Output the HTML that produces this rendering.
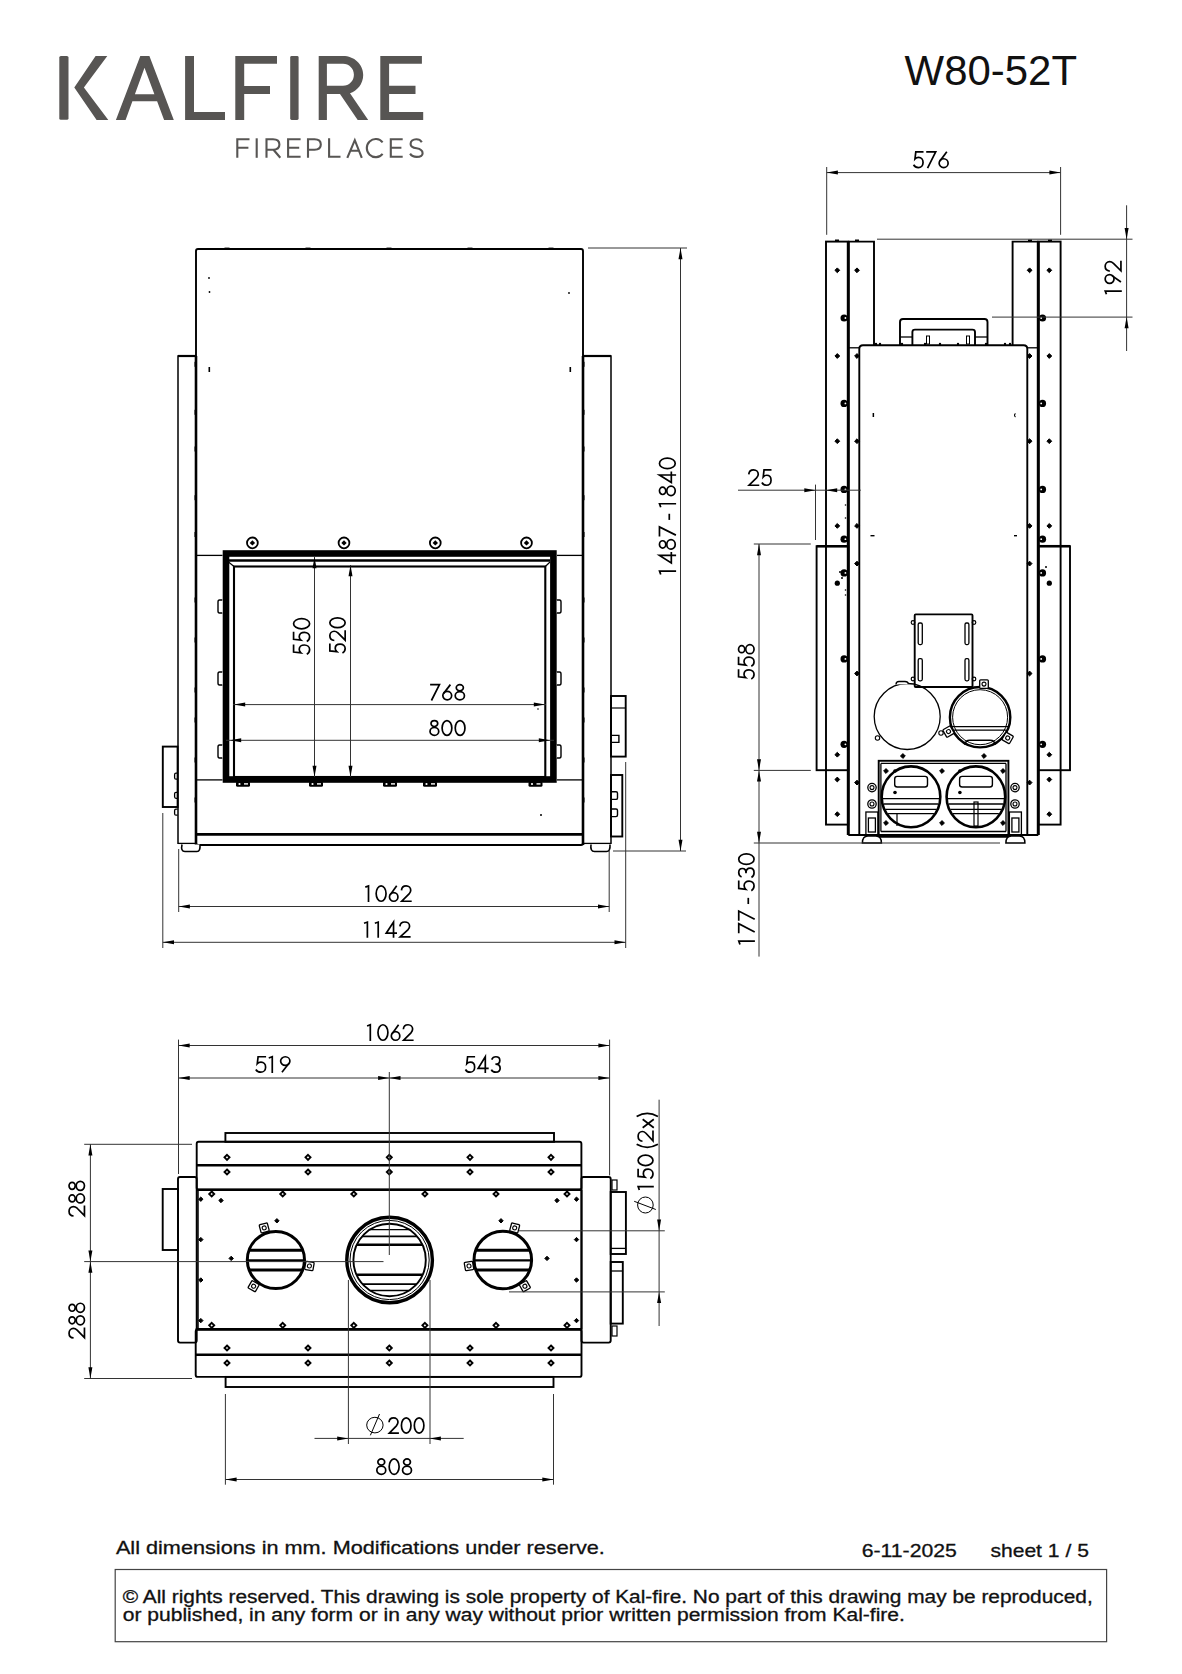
<!DOCTYPE html>
<html><head><meta charset="utf-8"><style>
html,body{margin:0;padding:0;background:#fff;}
body{width:1182px;height:1674px;overflow:hidden;}
svg{display:block;}
.dt *{vector-effect:non-scaling-stroke;}
</style></head><body>
<svg width="1182" height="1674" viewBox="0 0 1182 1674">
<rect x="0" y="0" width="1182" height="1674" fill="#fff"/>
<g fill="#575553">
<rect x="59.3" y="55.9" width="9.2" height="63.9" rx="1.6"/>
<polygon points="95.6,56 107.3,56 83.9,87.5 108.3,120 96.6,120 74.3,87.5"/>
<path fill-rule="evenodd" d="M115.9,120 L140.3,56 L149.4,56 L173.8,120 L164.1,120 L157.1,101.3 L132.4,101.3 L125.6,120 Z M144.5,67.8 L154.4,94.2 L134.9,94.2 Z"/>
<path d="M185.1,56 H194 V111.9 H225 V120 H185.1 Z"/>
<path d="M235.3,56 H277 V63.7 H244.2 V86 H270 V93.9 H244.2 V120 H235.3 Z"/>
<rect x="290.2" y="56" width="8.4" height="64" rx="1.4"/>
<path fill-rule="evenodd" d="M318.7,56 H343 C354,56 363.2,64 363.2,75 C363.2,84 357,91 350,93.2 L368.2,120 H357.7 L340,94 H326.9 V120 H318.7 Z M326.9,63.7 V85.7 H343 C349,85.7 353.9,81 353.9,74.7 C353.9,68.4 349,63.7 343,63.7 Z"/>
<path d="M380.3,56 H421.9 V63.7 H389.1 V85.7 H415.5 V94 H389.1 V112.1 H423.2 V120 H380.3 Z"/>
</g>
<path d="M237.3,157.8 V139.3 H249.5 M237.3,147.7 H248.4" fill="none" stroke="#575553" stroke-width="2.1" />
<path d="M256.7,138.3 V157.8" fill="none" stroke="#575553" stroke-width="2.1" />
<path d="M266.5,157.8 V139.3 H273 C277.3,139.3 279.4,141.7 279.4,144.6 C279.4,147.5 277.3,149.8 273,149.8 H266.5 M273.5,149.8 L280.3,157.8" fill="none" stroke="#575553" stroke-width="2.1" />
<path d="M300.6,139.3 H288.1 V156.8 H300.6 M288.1,147.7 H299.2" fill="none" stroke="#575553" stroke-width="2.1" />
<path d="M308,157.8 V139.3 H314.5 C318.8,139.3 320.8,141.7 320.8,144.6 C320.8,147.5 318.8,149.8 314.5,149.8 H308" fill="none" stroke="#575553" stroke-width="2.1" />
<path d="M329.1,138.3 V156.8 H340.5" fill="none" stroke="#575553" stroke-width="2.1" />
<path d="M347.3,157.8 L354.8,140.2 L361.8,157.8 M349.8,150.7 H359.5" fill="none" stroke="#575553" stroke-width="2.1" />
<path d="M382.6,142.3 A 8.9 9.1 0 1 0 382.6,153.8" fill="none" stroke="#575553" stroke-width="2.1" />
<path d="M402.7,139.3 H390.8 V156.8 H402.7 M390.8,147.7 H401.4" fill="none" stroke="#575553" stroke-width="2.1" />
<path d="M421.8,142.2 C420.6,140.2 418.6,139.3 416.3,139.3 C412.8,139.3 410.6,141.3 410.6,143.9 C410.6,146.8 413.2,147.7 416.6,148.3 C420.3,149 422.6,150.4 422.6,153.2 C422.6,155.6 420.3,156.9 416.6,156.9 C413.6,156.9 411.3,155.6 410.1,153.6" fill="none" stroke="#575553" stroke-width="2.1" />
<text x="904.6" y="85.3" font-family="Liberation Sans" font-size="42" fill="#111" font-weight="normal" text-anchor="start" textLength="172.4" lengthAdjust="spacingAndGlyphs" >W80-52T</text>
<rect x="196" y="249" width="387" height="596" rx="2" fill="none" stroke="#000" stroke-width="1.9"/>
<line x1="196" y1="356" x2="196" y2="845" stroke="#000" stroke-width="2.6" />
<line x1="583" y1="356" x2="583" y2="845" stroke="#000" stroke-width="2.6" />
<path d="M196,356 H178 V844" fill="none" stroke="#000" stroke-width="1.5" />
<line x1="178" y1="356" x2="196" y2="356" stroke="#000" stroke-width="2.2" />
<path d="M583,356 H611 V844" fill="none" stroke="#000" stroke-width="1.5" />
<line x1="583" y1="356" x2="611" y2="356" stroke="#000" stroke-width="2.2" />
<rect x="224.5" y="247.6" width="5" height="1.6" fill="#000"/>
<rect x="305.5" y="247.6" width="5" height="1.6" fill="#000"/>
<rect x="386.5" y="247.6" width="5" height="1.6" fill="#000"/>
<rect x="467.5" y="247.6" width="5" height="1.6" fill="#000"/>
<rect x="548.5" y="247.6" width="5" height="1.6" fill="#000"/>
<circle cx="209" cy="278" r="0.9" fill="#000"/>
<circle cx="209.5" cy="292" r="0.9" fill="#000"/>
<circle cx="569" cy="293" r="0.9" fill="#000"/>
<rect x="208.5" y="367" width="1.6" height="5" fill="#000"/>
<rect x="569.5" y="367" width="1.6" height="5" fill="#000"/>
<rect x="583" y="361.8" width="1.5" height="5" fill="#000"/>
<rect x="194.5" y="361.8" width="1.5" height="5" fill="#000"/>
<rect x="583" y="409.8" width="1.5" height="5" fill="#000"/>
<rect x="194.5" y="409.8" width="1.5" height="5" fill="#000"/>
<rect x="583" y="446.5" width="1.5" height="5" fill="#000"/>
<rect x="194.5" y="446.5" width="1.5" height="5" fill="#000"/>
<rect x="583" y="495.2" width="1.5" height="5" fill="#000"/>
<rect x="194.5" y="495.2" width="1.5" height="5" fill="#000"/>
<rect x="583" y="532.0" width="1.5" height="5" fill="#000"/>
<rect x="194.5" y="532.0" width="1.5" height="5" fill="#000"/>
<rect x="583" y="597.5" width="1.5" height="5" fill="#000"/>
<rect x="194.5" y="597.5" width="1.5" height="5" fill="#000"/>
<rect x="583" y="637.5" width="1.5" height="5" fill="#000"/>
<rect x="194.5" y="637.5" width="1.5" height="5" fill="#000"/>
<rect x="583" y="687.5" width="1.5" height="5" fill="#000"/>
<rect x="194.5" y="687.5" width="1.5" height="5" fill="#000"/>
<rect x="583" y="717.5" width="1.5" height="5" fill="#000"/>
<rect x="194.5" y="717.5" width="1.5" height="5" fill="#000"/>
<rect x="583" y="757.5" width="1.5" height="5" fill="#000"/>
<rect x="194.5" y="757.5" width="1.5" height="5" fill="#000"/>
<rect x="583" y="797.5" width="1.5" height="5" fill="#000"/>
<rect x="194.5" y="797.5" width="1.5" height="5" fill="#000"/>
<circle cx="541" cy="815" r="1" fill="#000"/>
<circle cx="538" cy="709" r="0.8" fill="#000"/>
<rect x="226" y="553.5" width="327.4" height="226.0" rx="0" fill="none" stroke="#000" stroke-width="6.6"/>
<line x1="228" y1="560.5" x2="550" y2="560.5" stroke="#000" stroke-width="2.4" />
<rect x="234" y="566.5" width="311.29999999999995" height="210.5" rx="0" fill="none" stroke="#000" stroke-width="2.1"/>
<line x1="228.5" y1="562" x2="234" y2="566.5" stroke="#000" stroke-width="1.2" />
<line x1="550" y1="562" x2="545.3" y2="566.5" stroke="#000" stroke-width="1.2" />
<line x1="196" y1="555.4" x2="222.5" y2="555.4" stroke="#000" stroke-width="1.3" />
<line x1="557" y1="555.4" x2="583" y2="555.4" stroke="#000" stroke-width="1.3" />
<line x1="196" y1="779.9" x2="222.5" y2="779.9" stroke="#000" stroke-width="1.3" />
<line x1="557" y1="779.9" x2="583" y2="779.9" stroke="#000" stroke-width="1.3" />
<line x1="196" y1="834.4" x2="583" y2="834.4" stroke="#000" stroke-width="2.6" />
<circle cx="252.4" cy="542.9" r="5.4" fill="none" stroke="#000" stroke-width="1.8"/>
<polygon points="252.40,540.20 255.10,542.90 252.40,545.60 249.70,542.90" fill="#000" stroke="none" stroke-width="0"/>
<circle cx="344" cy="542.9" r="5.4" fill="none" stroke="#000" stroke-width="1.8"/>
<polygon points="344.00,540.20 346.70,542.90 344.00,545.60 341.30,542.90" fill="#000" stroke="none" stroke-width="0"/>
<circle cx="435.3" cy="542.9" r="5.4" fill="none" stroke="#000" stroke-width="1.8"/>
<polygon points="435.30,540.20 438.00,542.90 435.30,545.60 432.60,542.90" fill="#000" stroke="none" stroke-width="0"/>
<circle cx="526.5" cy="542.9" r="5.4" fill="none" stroke="#000" stroke-width="1.8"/>
<polygon points="526.50,540.20 529.20,542.90 526.50,545.60 523.80,542.90" fill="#000" stroke="none" stroke-width="0"/>
<rect x="162.8" y="746.6" width="14.799999999999983" height="60.39999999999998" rx="0" fill="none" stroke="#000" stroke-width="1.9"/>
<rect x="611" y="696" width="14.700000000000045" height="60.60000000000002" rx="0" fill="none" stroke="#000" stroke-width="1.9"/>
<line x1="611" y1="708" x2="625.7" y2="708" stroke="#000" stroke-width="1.2" />
<path d="M611.4,735.4 H618.9 V742.4 H611.4" fill="none" stroke="#000" stroke-width="1.4" />
<path d="M611.4,791.8 H616 Q617.5,791.8 617.5,793.3 V797.9 Q617.5,799.4 616,799.4 H611.4" fill="none" stroke="#000" stroke-width="1.4" />
<path d="M611.4,809 H616 Q617.5,809 617.5,810.5 V815.1 Q617.5,816.6 616,816.6 H611.4" fill="none" stroke="#000" stroke-width="1.4" />
<path d="M177.6,773.2 H176 Q174.6,773.2 174.6,774.7 V777.7 Q174.6,779.2 176,779.2 H177.6" fill="none" stroke="#000" stroke-width="1.3" />
<path d="M177.6,792.3 H176 Q174.6,792.3 174.6,793.8 V796.8 Q174.6,798.3 176,798.3 H177.6" fill="none" stroke="#000" stroke-width="1.3" />
<path d="M177.6,809.2 H176 Q174.6,809.2 174.6,810.7 V813.7 Q174.6,815.2 176,815.2 H177.6" fill="none" stroke="#000" stroke-width="1.3" />
<rect x="611" y="775" width="11.299999999999955" height="61.5" rx="0" fill="none" stroke="#000" stroke-width="1.9"/>
<path d="M182,844.5 Q180.5,851.5 185,851.5 H197 Q200.5,851.5 200,844.5" fill="#fff" stroke="#000" stroke-width="1.6" />
<line x1="178" y1="843.4" x2="196" y2="843.4" stroke="#000" stroke-width="1.3" />
<path d="M591,844.5 Q590,851.5 594.5,851.5 H606.5 Q610.5,851.5 610,844.5" fill="#fff" stroke="#000" stroke-width="1.6" />
<line x1="583" y1="843.4" x2="611" y2="843.4" stroke="#000" stroke-width="1.3" />
<path d="M222.3,600 H219.5 Q218,600 218,602 V611 Q218,613 219.5,613 H222.3" fill="#fff" stroke="#000" stroke-width="1.4" />
<path d="M556.8,600 H559.5 Q561,600 561,602 V611 Q561,613 559.5,613 H556.8" fill="#fff" stroke="#000" stroke-width="1.4" />
<path d="M222.3,672 H219.5 Q218,672 218,674 V683 Q218,685 219.5,685 H222.3" fill="#fff" stroke="#000" stroke-width="1.4" />
<path d="M556.8,672 H559.5 Q561,672 561,674 V683 Q561,685 559.5,685 H556.8" fill="#fff" stroke="#000" stroke-width="1.4" />
<path d="M222.3,745 H219.5 Q218,745 218,747 V756 Q218,758 219.5,758 H222.3" fill="#fff" stroke="#000" stroke-width="1.4" />
<path d="M556.8,745 H559.5 Q561,745 561,747 V756 Q561,758 559.5,758 H556.8" fill="#fff" stroke="#000" stroke-width="1.4" />
<rect x="236" y="781.5" width="14" height="5.3" rx="1.5" fill="#000"/>
<circle cx="239.5" cy="784" r="1.1" fill="#fff"/>
<rect x="244" y="783.2" width="4" height="1.4" fill="#fff"/>
<rect x="309" y="781.5" width="14" height="5.3" rx="1.5" fill="#000"/>
<circle cx="312.5" cy="784" r="1.1" fill="#fff"/>
<rect x="317" y="783.2" width="4" height="1.4" fill="#fff"/>
<rect x="383" y="781.5" width="14" height="5.3" rx="1.5" fill="#000"/>
<circle cx="386.5" cy="784" r="1.1" fill="#fff"/>
<rect x="391" y="783.2" width="4" height="1.4" fill="#fff"/>
<rect x="423" y="781.5" width="14" height="5.3" rx="1.5" fill="#000"/>
<circle cx="426.5" cy="784" r="1.1" fill="#fff"/>
<rect x="431" y="783.2" width="4" height="1.4" fill="#fff"/>
<rect x="528.5" y="781.5" width="14" height="5.3" rx="1.5" fill="#000"/>
<circle cx="532.0" cy="784" r="1.1" fill="#fff"/>
<rect x="536.5" y="783.2" width="4" height="1.4" fill="#fff"/>
<line x1="588" y1="248" x2="687" y2="248" stroke="#333" stroke-width="1.0" />
<line x1="613" y1="851" x2="686" y2="851" stroke="#333" stroke-width="1.0" />
<line x1="680.5" y1="248" x2="680.5" y2="851" stroke="#333" stroke-width="1.0" />
<polygon points="680.50,248.00 682.50,259.20 678.50,259.20" fill="#000" stroke="none" stroke-width="0"/>
<polygon points="680.50,851.00 678.50,839.80 682.50,839.80" fill="#000" stroke="none" stroke-width="0"/>
<g class="dt" transform="translate(658.6,574.8) rotate(-90) scale(1.0416,1.0174)" fill="none" stroke="#000" stroke-width="1.7" stroke-linecap="butt"><g transform="translate(0.00,0)"><path d="M0.3,2.1 L3.6,0.9 V17.2"/></g><g transform="translate(10.60,0)"><path d="M8.0,17.2 V0.85 L0.85,12.5 H11.4"/></g><g transform="translate(23.80,0)"><ellipse cx="5.4" cy="3.95" rx="3.5" ry="3.1"/><ellipse cx="5.4" cy="12.2" rx="4.55" ry="4.15"/></g><g transform="translate(36.40,0)"><path d="M0.4,0.85 H9.6 L1.7,17.0"/></g><g transform="translate(52.70,0)"><path d="M0,10.5 H5.9"/></g><g transform="translate(64.60,0)"><path d="M0.3,2.1 L3.6,0.9 V17.2"/></g><g transform="translate(75.20,0)"><ellipse cx="5.4" cy="3.95" rx="3.5" ry="3.1"/><ellipse cx="5.4" cy="12.2" rx="4.55" ry="4.15"/></g><g transform="translate(87.80,0)"><path d="M8.0,17.2 V0.85 L0.85,12.5 H11.4"/></g><g transform="translate(101.00,0)"><ellipse cx="5.95" cy="8.6" rx="5.08" ry="7.75"/></g></g>
<line x1="314.5" y1="557" x2="314.5" y2="777" stroke="#333" stroke-width="1.0" />
<polygon points="314.50,777.00 312.50,765.80 316.50,765.80" fill="#000" stroke="none" stroke-width="0"/>
<polygon points="314.50,557.00 316.50,568.20 312.50,568.20" fill="#000" stroke="none" stroke-width="0"/>
<line x1="350.5" y1="565" x2="350.5" y2="777" stroke="#333" stroke-width="1.0" />
<polygon points="350.50,777.00 348.50,765.80 352.50,765.80" fill="#000" stroke="none" stroke-width="0"/>
<polygon points="350.50,565.00 352.50,576.20 348.50,576.20" fill="#000" stroke="none" stroke-width="0"/>
<g class="dt" transform="translate(292.7,655) rotate(-90) scale(0.9973,1.0349)" fill="none" stroke="#000" stroke-width="1.7" stroke-linecap="butt"><g transform="translate(0.00,0)"><path d="M10.5,0.85 H3.0 L2.2,7.9 C3.1,6.9 4.3,6.3 5.7,6.3 C8.3,6.3 10.05,8.4 10.05,11.3 C10.05,14.2 8.1,16.35 5.5,16.35 C3.5,16.35 1.8,15.3 0.85,13.6"/></g><g transform="translate(12.70,0)"><path d="M10.5,0.85 H3.0 L2.2,7.9 C3.1,6.9 4.3,6.3 5.7,6.3 C8.3,6.3 10.05,8.4 10.05,11.3 C10.05,14.2 8.1,16.35 5.5,16.35 C3.5,16.35 1.8,15.3 0.85,13.6"/></g><g transform="translate(25.40,0)"><ellipse cx="5.95" cy="8.6" rx="5.08" ry="7.75"/></g></g>
<g class="dt" transform="translate(329,653.8) rotate(-90) scale(0.9710,0.9884)" fill="none" stroke="#000" stroke-width="1.7" stroke-linecap="butt"><g transform="translate(0.00,0)"><path d="M10.5,0.85 H3.0 L2.2,7.9 C3.1,6.9 4.3,6.3 5.7,6.3 C8.3,6.3 10.05,8.4 10.05,11.3 C10.05,14.2 8.1,16.35 5.5,16.35 C3.5,16.35 1.8,15.3 0.85,13.6"/></g><g transform="translate(12.70,0)"><path d="M1.0,5.4 C1.2,2.6 3.3,0.85 5.8,0.85 C8.5,0.85 10.5,2.8 10.5,5.2 C10.5,6.7 9.9,7.8 8.8,9 L1.3,16.35 H11.5"/></g><g transform="translate(26.00,0)"><ellipse cx="5.95" cy="8.6" rx="5.08" ry="7.75"/></g></g>
<line x1="233" y1="704.6" x2="546" y2="704.6" stroke="#333" stroke-width="1.0" />
<polygon points="234.00,704.60 245.20,702.60 245.20,706.60" fill="#000" stroke="none" stroke-width="0"/>
<polygon points="545.00,704.60 533.80,706.60 533.80,702.60" fill="#000" stroke="none" stroke-width="0"/>
<line x1="226" y1="740.3" x2="554" y2="740.3" stroke="#333" stroke-width="1.0" />
<polygon points="230.00,740.30 241.20,738.30 241.20,742.30" fill="#000" stroke="none" stroke-width="0"/>
<polygon points="550.00,740.30 538.80,742.30 538.80,738.30" fill="#000" stroke="none" stroke-width="0"/>
<g class="dt" transform="translate(429.7,683.8) scale(1.0142,0.9826)" fill="none" stroke="#000" stroke-width="1.7" stroke-linecap="butt"><g transform="translate(0.00,0)"><path d="M0.4,0.85 H9.6 L1.7,17.0"/></g><g transform="translate(12.10,0)"><circle cx="5.2" cy="12.0" r="4.35"/><path d="M8.3,0.85 L1.5,10.0"/></g><g transform="translate(24.30,0)"><ellipse cx="5.4" cy="3.95" rx="3.5" ry="3.1"/><ellipse cx="5.4" cy="12.2" rx="4.55" ry="4.15"/></g></g>
<g class="dt" transform="translate(429.2,719.8) scale(0.9581,0.9535)" fill="none" stroke="#000" stroke-width="1.7" stroke-linecap="butt"><g transform="translate(0.00,0)"><ellipse cx="5.4" cy="3.95" rx="3.5" ry="3.1"/><ellipse cx="5.4" cy="12.2" rx="4.55" ry="4.15"/></g><g transform="translate(12.60,0)"><ellipse cx="5.95" cy="8.6" rx="5.08" ry="7.75"/></g><g transform="translate(26.30,0)"><ellipse cx="5.95" cy="8.6" rx="5.08" ry="7.75"/></g></g>
<line x1="178.7" y1="849" x2="178.7" y2="912" stroke="#333" stroke-width="1.0" />
<line x1="609.2" y1="850" x2="609.2" y2="912" stroke="#333" stroke-width="1.0" />
<line x1="162.8" y1="813" x2="162.8" y2="948" stroke="#333" stroke-width="1.0" />
<line x1="625.7" y1="762" x2="625.7" y2="948" stroke="#333" stroke-width="1.0" />
<line x1="178.7" y1="906.5" x2="609.2" y2="906.5" stroke="#333" stroke-width="1.0" />
<polygon points="178.70,906.50 189.90,904.50 189.90,908.50" fill="#000" stroke="none" stroke-width="0"/>
<polygon points="609.20,906.50 598.00,908.50 598.00,904.50" fill="#000" stroke="none" stroke-width="0"/>
<line x1="162.8" y1="942.3" x2="625.7" y2="942.3" stroke="#333" stroke-width="1.0" />
<polygon points="162.80,942.30 174.00,940.30 174.00,944.30" fill="#000" stroke="none" stroke-width="0"/>
<polygon points="625.70,942.30 614.50,944.30 614.50,940.30" fill="#000" stroke="none" stroke-width="0"/>
<g class="dt" transform="translate(365,885) scale(0.9729,0.9942)" fill="none" stroke="#000" stroke-width="1.7" stroke-linecap="butt"><g transform="translate(0.00,0)"><path d="M0.3,2.1 L3.6,0.9 V17.2"/></g><g transform="translate(10.60,0)"><ellipse cx="5.95" cy="8.6" rx="5.08" ry="7.75"/></g><g transform="translate(24.30,0)"><circle cx="5.2" cy="12.0" r="4.35"/><path d="M8.3,0.85 L1.5,10.0"/></g><g transform="translate(36.50,0)"><path d="M1.0,5.4 C1.2,2.6 3.3,0.85 5.8,0.85 C8.5,0.85 10.5,2.8 10.5,5.2 C10.5,6.7 9.9,7.8 8.8,9 L1.3,16.35 H11.5"/></g></g>
<g class="dt" transform="translate(363.7,921.2) scale(1.0218,0.9593)" fill="none" stroke="#000" stroke-width="1.7" stroke-linecap="butt"><g transform="translate(0.00,0)"><path d="M0.3,2.1 L3.6,0.9 V17.2"/></g><g transform="translate(10.60,0)"><path d="M0.3,2.1 L3.6,0.9 V17.2"/></g><g transform="translate(21.20,0)"><path d="M8.0,17.2 V0.85 L0.85,12.5 H11.4"/></g><g transform="translate(34.40,0)"><path d="M1.0,5.4 C1.2,2.6 3.3,0.85 5.8,0.85 C8.5,0.85 10.5,2.8 10.5,5.2 C10.5,6.7 9.9,7.8 8.8,9 L1.3,16.35 H11.5"/></g></g>
<rect x="826" y="241.6" width="22.299999999999955" height="583.0" rx="0" fill="none" stroke="#000" stroke-width="1.9"/>
<path d="M848.3,241.6 H874 V345.3" fill="none" stroke="#000" stroke-width="1.9" />
<line x1="848.3" y1="241.6" x2="848.3" y2="835" stroke="#000" stroke-width="3" />
<line x1="848.3" y1="347.8" x2="859.3" y2="347.8" stroke="#000" stroke-width="1.3" />
<rect x="816.6" y="546.2" width="31.699999999999932" height="224.0" rx="0" fill="none" stroke="#000" stroke-width="1.9"/>
<line x1="816.6" y1="546.2" x2="848.3" y2="546.2" stroke="#000" stroke-width="2.5" />
<polygon points="837.30,267.90 839.70,270.30 837.30,272.70 834.90,270.30" fill="#000" stroke="#000" stroke-width="1.0"/>
<polygon points="837.30,353.60 839.70,356.00 837.30,358.40 834.90,356.00" fill="#000" stroke="#000" stroke-width="1.0"/>
<polygon points="837.30,438.80 839.70,441.20 837.30,443.60 834.90,441.20" fill="#000" stroke="#000" stroke-width="1.0"/>
<polygon points="837.30,523.50 839.70,525.90 837.30,528.30 834.90,525.90" fill="#000" stroke="#000" stroke-width="1.0"/>
<polygon points="837.30,752.30 839.70,754.70 837.30,757.10 834.90,754.70" fill="#000" stroke="#000" stroke-width="1.0"/>
<polygon points="837.30,777.10 839.70,779.50 837.30,781.90 834.90,779.50" fill="#000" stroke="#000" stroke-width="1.0"/>
<polygon points="837.30,811.80 839.70,814.20 837.30,816.60 834.90,814.20" fill="#000" stroke="#000" stroke-width="1.0"/>
<polygon points="857.00,267.90 859.40,270.30 857.00,272.70 854.60,270.30" fill="#000" stroke="#000" stroke-width="1.0"/>
<polygon points="857.00,353.60 859.40,356.00 857.00,358.40 854.60,356.00" fill="#000" stroke="#000" stroke-width="1.0"/>
<polygon points="857.00,438.80 859.40,441.20 857.00,443.60 854.60,441.20" fill="#000" stroke="#000" stroke-width="1.0"/>
<polygon points="857.00,523.50 859.40,525.90 857.00,528.30 854.60,525.90" fill="#000" stroke="#000" stroke-width="1.0"/>
<polygon points="857.00,561.20 859.40,563.60 857.00,566.00 854.60,563.60" fill="#000" stroke="#000" stroke-width="1.0"/>
<polygon points="857.00,671.10 859.40,673.50 857.00,675.90 854.60,673.50" fill="#000" stroke="#000" stroke-width="1.0"/>
<polygon points="857.00,780.20 859.40,782.60 857.00,785.00 854.60,782.60" fill="#000" stroke="#000" stroke-width="1.0"/>
<circle cx="837.3" cy="583.2" r="2.6" fill="#000"/>
<circle cx="844.1" cy="318" r="3.6" fill="#000"/>
<circle cx="845.4" cy="318" r="0.9" fill="#fff"/>
<circle cx="844.1" cy="403.4" r="3.6" fill="#000"/>
<circle cx="845.4" cy="403.4" r="0.9" fill="#fff"/>
<circle cx="844.1" cy="489.4" r="3.6" fill="#000"/>
<circle cx="845.4" cy="489.4" r="0.9" fill="#fff"/>
<circle cx="844.1" cy="539.2" r="3.6" fill="#000"/>
<circle cx="845.4" cy="539.2" r="0.9" fill="#fff"/>
<circle cx="844.1" cy="572.9" r="3.6" fill="#000"/>
<circle cx="845.4" cy="572.9" r="0.9" fill="#fff"/>
<circle cx="844.1" cy="658.9" r="3.6" fill="#000"/>
<circle cx="845.4" cy="658.9" r="0.9" fill="#fff"/>
<circle cx="844.1" cy="744.3" r="3.6" fill="#000"/>
<circle cx="845.4" cy="744.3" r="0.9" fill="#fff"/>
<rect x="1038.3" y="241.6" width="22.299999999999955" height="583.0" rx="0" fill="none" stroke="#000" stroke-width="1.9"/>
<path d="M1038.3,241.6 H1012.5999999999999 V345.3" fill="none" stroke="#000" stroke-width="1.9" />
<line x1="1038.3" y1="241.6" x2="1038.3" y2="835" stroke="#000" stroke-width="3" />
<line x1="1038.3" y1="347.8" x2="1027.3" y2="347.8" stroke="#000" stroke-width="1.3" />
<rect x="1038.3" y="546.2" width="31.700000000000045" height="224.0" rx="0" fill="none" stroke="#000" stroke-width="1.9"/>
<line x1="1038.3" y1="546.2" x2="1070.0" y2="546.2" stroke="#000" stroke-width="2.5" />
<polygon points="1049.30,267.90 1051.70,270.30 1049.30,272.70 1046.90,270.30" fill="#000" stroke="#000" stroke-width="1.0"/>
<polygon points="1049.30,353.60 1051.70,356.00 1049.30,358.40 1046.90,356.00" fill="#000" stroke="#000" stroke-width="1.0"/>
<polygon points="1049.30,438.80 1051.70,441.20 1049.30,443.60 1046.90,441.20" fill="#000" stroke="#000" stroke-width="1.0"/>
<polygon points="1049.30,523.50 1051.70,525.90 1049.30,528.30 1046.90,525.90" fill="#000" stroke="#000" stroke-width="1.0"/>
<polygon points="1049.30,752.30 1051.70,754.70 1049.30,757.10 1046.90,754.70" fill="#000" stroke="#000" stroke-width="1.0"/>
<polygon points="1049.30,777.10 1051.70,779.50 1049.30,781.90 1046.90,779.50" fill="#000" stroke="#000" stroke-width="1.0"/>
<polygon points="1049.30,811.80 1051.70,814.20 1049.30,816.60 1046.90,814.20" fill="#000" stroke="#000" stroke-width="1.0"/>
<polygon points="1029.60,267.90 1032.00,270.30 1029.60,272.70 1027.20,270.30" fill="#000" stroke="#000" stroke-width="1.0"/>
<polygon points="1029.60,353.60 1032.00,356.00 1029.60,358.40 1027.20,356.00" fill="#000" stroke="#000" stroke-width="1.0"/>
<polygon points="1029.60,438.80 1032.00,441.20 1029.60,443.60 1027.20,441.20" fill="#000" stroke="#000" stroke-width="1.0"/>
<polygon points="1029.60,523.50 1032.00,525.90 1029.60,528.30 1027.20,525.90" fill="#000" stroke="#000" stroke-width="1.0"/>
<polygon points="1029.60,561.20 1032.00,563.60 1029.60,566.00 1027.20,563.60" fill="#000" stroke="#000" stroke-width="1.0"/>
<polygon points="1029.60,671.10 1032.00,673.50 1029.60,675.90 1027.20,673.50" fill="#000" stroke="#000" stroke-width="1.0"/>
<polygon points="1029.60,780.20 1032.00,782.60 1029.60,785.00 1027.20,782.60" fill="#000" stroke="#000" stroke-width="1.0"/>
<circle cx="1049.3" cy="583.2" r="2.6" fill="#000"/>
<circle cx="1042.5" cy="318" r="3.6" fill="#000"/>
<circle cx="1041.2" cy="318" r="0.9" fill="#fff"/>
<circle cx="1042.5" cy="403.4" r="3.6" fill="#000"/>
<circle cx="1041.2" cy="403.4" r="0.9" fill="#fff"/>
<circle cx="1042.5" cy="489.4" r="3.6" fill="#000"/>
<circle cx="1041.2" cy="489.4" r="0.9" fill="#fff"/>
<circle cx="1042.5" cy="539.2" r="3.6" fill="#000"/>
<circle cx="1041.2" cy="539.2" r="0.9" fill="#fff"/>
<circle cx="1042.5" cy="572.9" r="3.6" fill="#000"/>
<circle cx="1041.2" cy="572.9" r="0.9" fill="#fff"/>
<circle cx="1042.5" cy="658.9" r="3.6" fill="#000"/>
<circle cx="1041.2" cy="658.9" r="0.9" fill="#fff"/>
<circle cx="1042.5" cy="744.3" r="3.6" fill="#000"/>
<circle cx="1041.2" cy="744.3" r="0.9" fill="#fff"/>
<rect x="872.6" y="413" width="1.5" height="4" fill="#000"/>
<path d="M1015.5,413.5 Q1013.5,415 1015.5,417" fill="none" stroke="#000" stroke-width="1.1"/>
<rect x="870.5" y="535" width="4" height="1.4" fill="#000"/>
<rect x="1014" y="535" width="3" height="1.4" fill="#000"/>
<circle cx="845.5" cy="505" r="0.8" fill="#000"/>
<circle cx="845.5" cy="518" r="0.8" fill="#000"/>
<circle cx="845.5" cy="590" r="0.8" fill="#000"/>
<circle cx="845.5" cy="595" r="0.8" fill="#000"/>
<circle cx="840" cy="572" r="1.0" fill="#000"/>
<circle cx="842" cy="578" r="1.0" fill="#000"/>
<circle cx="1046" cy="567" r="1.0" fill="#000"/>
<circle cx="1043" cy="575" r="1.0" fill="#000"/>
<line x1="835" y1="240.5" x2="839" y2="240.5" stroke="#000" stroke-width="2" />
<line x1="855" y1="240.5" x2="859" y2="240.5" stroke="#000" stroke-width="2" />
<line x1="1028" y1="240.5" x2="1032" y2="240.5" stroke="#000" stroke-width="2" />
<line x1="1048" y1="240.5" x2="1052" y2="240.5" stroke="#000" stroke-width="2" />
<line x1="848.3" y1="835" x2="1038.3" y2="835" stroke="#000" stroke-width="1.9" />
<path d="M859.3,835 V349 Q859.3,345.3 863,345.3 H1023.6 Q1027.3,345.3 1027.3,349 V835" fill="none" stroke="#000" stroke-width="1.9" />
<path d="M900,345.3 V322 Q900,319 903,319 H984.5 Q987.5,319 987.5,322 V345.3" fill="none" stroke="#000" stroke-width="1.9" />
<line x1="900" y1="337" x2="912.4" y2="337" stroke="#000" stroke-width="1.3" />
<line x1="975" y1="337" x2="987.5" y2="337" stroke="#000" stroke-width="1.3" />
<path d="M912.4,345.3 V332 Q912.4,329.6 915,329.6 H972.4 Q975,329.6 975,332 V345.3" fill="none" stroke="#000" stroke-width="1.9" />
<rect x="926.5" y="336" width="3.0" height="8" rx="0" fill="none" stroke="#000" stroke-width="1"/>
<rect x="966.5" y="336" width="3.0" height="8" rx="0" fill="none" stroke="#000" stroke-width="1"/>
<circle cx="876" cy="344" r="1.2" fill="#000"/>
<circle cx="880" cy="344" r="1.2" fill="#000"/>
<circle cx="902" cy="344" r="1.2" fill="#000"/>
<circle cx="925" cy="344" r="1.2" fill="#000"/>
<circle cx="940" cy="344" r="1.2" fill="#000"/>
<circle cx="958" cy="344" r="1.2" fill="#000"/>
<circle cx="986" cy="344" r="1.2" fill="#000"/>
<circle cx="1005" cy="344" r="1.2" fill="#000"/>
<circle cx="1010" cy="344" r="1.2" fill="#000"/>
<rect x="914.7" y="614.4" width="57.799999999999955" height="72.60000000000002" rx="1" fill="none" stroke="#000" stroke-width="1.9"/>
<rect x="918.2" y="623" width="4.099999999999909" height="21.600000000000023" rx="1.5" fill="none" stroke="#000" stroke-width="1.3"/>
<rect x="918.2" y="658.7" width="4.099999999999909" height="22.09999999999991" rx="1.5" fill="none" stroke="#000" stroke-width="1.3"/>
<rect x="965" y="623" width="3.8999999999999773" height="21.600000000000023" rx="1.5" fill="none" stroke="#000" stroke-width="1.3"/>
<rect x="965" y="658.7" width="3.8999999999999773" height="22.09999999999991" rx="1.5" fill="none" stroke="#000" stroke-width="1.3"/>
<circle cx="913" cy="622.5" r="1.8" fill="none" stroke="#000" stroke-width="1.2"/>
<circle cx="913" cy="679" r="1.8" fill="none" stroke="#000" stroke-width="1.2"/>
<circle cx="974" cy="622.5" r="1.8" fill="none" stroke="#000" stroke-width="1.2"/>
<circle cx="974" cy="679" r="1.8" fill="none" stroke="#000" stroke-width="1.2"/>
<circle cx="907.2" cy="716.5" r="33" fill="none" stroke="#000" stroke-width="1.3"/>
<path d="M896,684.5 Q896,681.5 899,681.5 H905 Q908,681.5 908.5,684" fill="#fff" stroke="#000" stroke-width="1.3" />
<circle cx="941" cy="733" r="2.2" fill="#fff" stroke="#000" stroke-width="1.1"/>
<circle cx="877.5" cy="738" r="2.2" fill="#fff" stroke="#000" stroke-width="1.1"/>
<circle cx="980.1" cy="717.2" r="30.2" fill="none" stroke="#000" stroke-width="2.4"/>
<circle cx="980.1" cy="717.2" r="27.5" fill="none" stroke="#000" stroke-width="1.0"/>
<line x1="952" y1="726.6" x2="1008" y2="726.6" stroke="#000" stroke-width="1.3" />
<line x1="954" y1="730.2" x2="1006" y2="730.2" stroke="#000" stroke-width="1.3" />
<path d="M965,745 Q965,740.2 970,740.2 H990 Q995,740.2 995,745" fill="none" stroke="#000" stroke-width="1.6" />
<g transform="translate(984,684.1) rotate(0)"><rect x="-4.3" y="-4.3" width="8.6" height="8.6" rx="1" fill="#fff" stroke="#000" stroke-width="1.3"/><circle cx="0" cy="0" r="2" fill="none" stroke="#000" stroke-width="1.1"/></g>
<g transform="translate(948.5,731.6) rotate(-30)"><rect x="-4.3" y="-4.3" width="8.6" height="8.6" rx="1" fill="#fff" stroke="#000" stroke-width="1.3"/><circle cx="0" cy="0" r="2" fill="none" stroke="#000" stroke-width="1.1"/></g>
<g transform="translate(1007.7,738) rotate(30)"><rect x="-4.3" y="-4.3" width="8.6" height="8.6" rx="1" fill="#fff" stroke="#000" stroke-width="1.3"/><circle cx="0" cy="0" r="2" fill="none" stroke="#000" stroke-width="1.1"/></g>
<polygon points="902.90,753.60 905.30,756.00 902.90,758.40 900.50,756.00" fill="#000" stroke="#000" stroke-width="1.0"/>
<polygon points="984.00,753.60 986.40,756.00 984.00,758.40 981.60,756.00" fill="#000" stroke="#000" stroke-width="1.0"/>
<rect x="878.7" y="760.8" width="129.69999999999993" height="76.0" rx="0" fill="none" stroke="#000" stroke-width="1.9"/>
<line x1="880.9" y1="763.4" x2="1006" y2="763.4" stroke="#000" stroke-width="1.3" />
<line x1="880.9" y1="763.4" x2="880.9" y2="831.5" stroke="#000" stroke-width="1.3" />
<line x1="1006" y1="763.4" x2="1006" y2="831.5" stroke="#000" stroke-width="1.3" />
<line x1="880.9" y1="831.5" x2="1006" y2="831.5" stroke="#000" stroke-width="1.3" />
<ellipse cx="911" cy="796.8" rx="29.3" ry="30.4" fill="none" stroke="#000" stroke-width="2.6"/>
<rect x="894.7" y="776.4" width="32.799999999999955" height="10.600000000000023" rx="2.5" fill="none" stroke="#000" stroke-width="1.4"/>
<line x1="882.7553423682205" y1="798.6" x2="939.2446576317795" y2="798.6" stroke="#000" stroke-width="1.3" />
<line x1="883.598415537157" y1="804" x2="938.401584462843" y2="804" stroke="#000" stroke-width="1.3" />
<line x1="885.500188679917" y1="809.3" x2="936.499811320083" y2="809.3" stroke="#000" stroke-width="1.3" />
<line x1="888.0650882600332" y1="813.7" x2="933.9349117399668" y2="813.7" stroke="#000" stroke-width="1.3" />
<circle cx="895" cy="771" r="1.8" fill="#000"/>
<circle cx="895" cy="792.5" r="1.8" fill="#000"/>
<ellipse cx="975.9" cy="796.8" rx="29.3" ry="30.4" fill="none" stroke="#000" stroke-width="2.6"/>
<rect x="959.6" y="776.4" width="32.799999999999955" height="10.600000000000023" rx="2.5" fill="none" stroke="#000" stroke-width="1.4"/>
<line x1="947.6553423682204" y1="798.6" x2="1004.1446576317795" y2="798.6" stroke="#000" stroke-width="1.3" />
<line x1="948.498415537157" y1="804" x2="1003.3015844628429" y2="804" stroke="#000" stroke-width="1.3" />
<line x1="950.4001886799169" y1="809.3" x2="1001.399811320083" y2="809.3" stroke="#000" stroke-width="1.3" />
<line x1="952.9650882600332" y1="813.7" x2="998.8349117399667" y2="813.7" stroke="#000" stroke-width="1.3" />
<circle cx="959.9" cy="771" r="1.8" fill="#000"/>
<circle cx="959.9" cy="792.5" r="1.8" fill="#000"/>
<line x1="897" y1="814" x2="897" y2="826" stroke="#000" stroke-width="1.2" />
<rect x="974" y="802" width="4" height="24" rx="0" fill="none" stroke="#000" stroke-width="1.2"/>
<polygon points="886.00,768.60 888.40,771.00 886.00,773.40 883.60,771.00" fill="#000" stroke="#000" stroke-width="1.0"/>
<polygon points="886.00,820.60 888.40,823.00 886.00,825.40 883.60,823.00" fill="#000" stroke="#000" stroke-width="1.0"/>
<polygon points="942.00,768.60 944.40,771.00 942.00,773.40 939.60,771.00" fill="#000" stroke="#000" stroke-width="1.0"/>
<polygon points="942.00,820.60 944.40,823.00 942.00,825.40 939.60,823.00" fill="#000" stroke="#000" stroke-width="1.0"/>
<polygon points="1003.00,768.60 1005.40,771.00 1003.00,773.40 1000.60,771.00" fill="#000" stroke="#000" stroke-width="1.0"/>
<polygon points="1003.00,820.60 1005.40,823.00 1003.00,825.40 1000.60,823.00" fill="#000" stroke="#000" stroke-width="1.0"/>
<circle cx="872" cy="787.6" r="4.2" fill="none" stroke="#000" stroke-width="1.3"/>
<circle cx="872" cy="787.6" r="2" fill="none" stroke="#000" stroke-width="1.1"/>
<circle cx="872" cy="804" r="4.2" fill="none" stroke="#000" stroke-width="1.3"/>
<circle cx="872" cy="804" r="2" fill="none" stroke="#000" stroke-width="1.1"/>
<circle cx="1015" cy="787.6" r="4.2" fill="none" stroke="#000" stroke-width="1.3"/>
<circle cx="1015" cy="787.6" r="2" fill="none" stroke="#000" stroke-width="1.1"/>
<circle cx="1015" cy="804" r="4.2" fill="none" stroke="#000" stroke-width="1.3"/>
<circle cx="1015" cy="804" r="2" fill="none" stroke="#000" stroke-width="1.1"/>
<rect x="865.9" y="812" width="12.0" height="24" rx="0" fill="none" stroke="#000" stroke-width="1.3"/>
<rect x="868.4" y="818" width="7.0" height="14" rx="0" fill="none" stroke="#000" stroke-width="1.3"/>
<path d="M862.4,843 Q862.4,836 867.9,836 H875.9 Q881.4,836 881.4,843 Z" fill="#fff" stroke="#000" stroke-width="1.5" />
<rect x="1009.4" y="812" width="12.0" height="24" rx="0" fill="none" stroke="#000" stroke-width="1.3"/>
<rect x="1011.9" y="818" width="7.0" height="14" rx="0" fill="none" stroke="#000" stroke-width="1.3"/>
<path d="M1005.9,843 Q1005.9,836 1011.4,836 H1019.4 Q1024.9,836 1024.9,843 Z" fill="#fff" stroke="#000" stroke-width="1.5" />
<line x1="826.7" y1="167" x2="826.7" y2="234.8" stroke="#333" stroke-width="1.0" />
<line x1="1060.6" y1="167" x2="1060.6" y2="234.8" stroke="#333" stroke-width="1.0" />
<line x1="826.7" y1="172.6" x2="1060.6" y2="172.6" stroke="#333" stroke-width="1.0" />
<polygon points="826.70,172.60 837.90,170.60 837.90,174.60" fill="#000" stroke="none" stroke-width="0"/>
<polygon points="1060.60,172.60 1049.40,174.60 1049.40,170.60" fill="#000" stroke="none" stroke-width="0"/>
<g class="dt" transform="translate(912.7,151) scale(1.0312,1.0116)" fill="none" stroke="#000" stroke-width="1.7" stroke-linecap="butt"><g transform="translate(0.00,0)"><path d="M10.5,0.85 H3.0 L2.2,7.9 C3.1,6.9 4.3,6.3 5.7,6.3 C8.3,6.3 10.05,8.4 10.05,11.3 C10.05,14.2 8.1,16.35 5.5,16.35 C3.5,16.35 1.8,15.3 0.85,13.6"/></g><g transform="translate(12.70,0)"><path d="M0.4,0.85 H9.6 L1.7,17.0"/></g><g transform="translate(24.80,0)"><circle cx="5.2" cy="12.0" r="4.35"/><path d="M8.3,0.85 L1.5,10.0"/></g></g>
<line x1="877" y1="239.2" x2="1132.5" y2="239.2" stroke="#333" stroke-width="1.0" />
<line x1="992" y1="317.1" x2="1132.5" y2="317.1" stroke="#333" stroke-width="1.0" />
<line x1="1126.6" y1="205.3" x2="1126.6" y2="351" stroke="#333" stroke-width="1.0" />
<polygon points="1126.60,239.20 1124.60,228.00 1128.60,228.00" fill="#000" stroke="none" stroke-width="0"/>
<polygon points="1126.60,317.10 1128.60,328.30 1124.60,328.30" fill="#000" stroke="none" stroke-width="0"/>
<g class="dt" transform="translate(1104.3,294.6) rotate(-90) scale(0.9883,1.0174)" fill="none" stroke="#000" stroke-width="1.7" stroke-linecap="butt"><g transform="translate(0.00,0)"><path d="M0.3,2.1 L3.6,0.9 V17.2"/></g><g transform="translate(10.60,0)"><circle cx="5.2" cy="5.2" r="4.35"/><path d="M8.9,7.2 L2.1,16.35"/></g><g transform="translate(22.80,0)"><path d="M1.0,5.4 C1.2,2.6 3.3,0.85 5.8,0.85 C8.5,0.85 10.5,2.8 10.5,5.2 C10.5,6.7 9.9,7.8 8.8,9 L1.3,16.35 H11.5"/></g></g>
<line x1="738" y1="490.2" x2="860.8" y2="490.2" stroke="#333" stroke-width="1.0" />
<line x1="815.5" y1="484.6" x2="815.5" y2="540" stroke="#333" stroke-width="1.0" />
<polygon points="815.50,490.20 804.30,492.20 804.30,488.20" fill="#000" stroke="none" stroke-width="0"/>
<polygon points="826.00,490.20 837.20,488.20 837.20,492.20" fill="#000" stroke="none" stroke-width="0"/>
<g class="dt" transform="translate(747.8,469) scale(0.9959,0.9942)" fill="none" stroke="#000" stroke-width="1.7" stroke-linecap="butt"><g transform="translate(0.00,0)"><path d="M1.0,5.4 C1.2,2.6 3.3,0.85 5.8,0.85 C8.5,0.85 10.5,2.8 10.5,5.2 C10.5,6.7 9.9,7.8 8.8,9 L1.3,16.35 H11.5"/></g><g transform="translate(13.30,0)"><path d="M10.5,0.85 H3.0 L2.2,7.9 C3.1,6.9 4.3,6.3 5.7,6.3 C8.3,6.3 10.05,8.4 10.05,11.3 C10.05,14.2 8.1,16.35 5.5,16.35 C3.5,16.35 1.8,15.3 0.85,13.6"/></g></g>
<line x1="753.8" y1="544" x2="810.8" y2="544" stroke="#333" stroke-width="1.0" />
<line x1="753.8" y1="770.4" x2="810.8" y2="770.4" stroke="#333" stroke-width="1.0" />
<line x1="753.8" y1="843" x2="1000" y2="843" stroke="#333" stroke-width="1.0" />
<line x1="759" y1="544" x2="759" y2="956.6" stroke="#333" stroke-width="1.0" />
<polygon points="759.00,544.00 761.00,555.20 757.00,555.20" fill="#000" stroke="none" stroke-width="0"/>
<polygon points="759.00,770.40 757.00,759.20 761.00,759.20" fill="#000" stroke="none" stroke-width="0"/>
<polygon points="759.00,770.40 761.00,781.60 757.00,781.60" fill="#000" stroke="none" stroke-width="0"/>
<polygon points="759.00,843.00 757.00,831.80 761.00,831.80" fill="#000" stroke="none" stroke-width="0"/>
<g class="dt" transform="translate(737.7,679.8) rotate(-90) scale(0.9945,1.0000)" fill="none" stroke="#000" stroke-width="1.7" stroke-linecap="butt"><g transform="translate(0.00,0)"><path d="M10.5,0.85 H3.0 L2.2,7.9 C3.1,6.9 4.3,6.3 5.7,6.3 C8.3,6.3 10.05,8.4 10.05,11.3 C10.05,14.2 8.1,16.35 5.5,16.35 C3.5,16.35 1.8,15.3 0.85,13.6"/></g><g transform="translate(12.70,0)"><path d="M10.5,0.85 H3.0 L2.2,7.9 C3.1,6.9 4.3,6.3 5.7,6.3 C8.3,6.3 10.05,8.4 10.05,11.3 C10.05,14.2 8.1,16.35 5.5,16.35 C3.5,16.35 1.8,15.3 0.85,13.6"/></g><g transform="translate(25.40,0)"><ellipse cx="5.4" cy="3.95" rx="3.5" ry="3.1"/><ellipse cx="5.4" cy="12.2" rx="4.55" ry="4.15"/></g></g>
<g class="dt" transform="translate(737.9,944.9) rotate(-90) scale(1.0478,0.9884)" fill="none" stroke="#000" stroke-width="1.7" stroke-linecap="butt"><g transform="translate(0.00,0)"><path d="M0.3,2.1 L3.6,0.9 V17.2"/></g><g transform="translate(10.60,0)"><path d="M0.4,0.85 H9.6 L1.7,17.0"/></g><g transform="translate(22.70,0)"><path d="M0.4,0.85 H9.6 L1.7,17.0"/></g><g transform="translate(39.00,0)"><path d="M0,10.5 H5.9"/></g><g transform="translate(50.90,0)"><path d="M10.5,0.85 H3.0 L2.2,7.9 C3.1,6.9 4.3,6.3 5.7,6.3 C8.3,6.3 10.05,8.4 10.05,11.3 C10.05,14.2 8.1,16.35 5.5,16.35 C3.5,16.35 1.8,15.3 0.85,13.6"/></g><g transform="translate(63.60,0)"><path d="M1.2,3.7 C1.9,1.9 3.5,0.85 5.4,0.85 C7.8,0.85 9.3,2.5 9.3,4.5 C9.3,6.7 7.6,8.2 4.9,8.2 C7.9,8.2 9.65,10.1 9.65,12.4 C9.65,14.8 7.8,16.35 5.2,16.35 C3.2,16.35 1.6,15.4 0.85,13.7"/></g><g transform="translate(75.90,0)"><ellipse cx="5.95" cy="8.6" rx="5.08" ry="7.75"/></g></g>
<rect x="225.4" y="1133" width="328.6" height="8.799999999999955" rx="0" fill="none" stroke="#000" stroke-width="1.9"/>
<rect x="196.7" y="1141.8" width="384.7" height="48.0" rx="2" fill="none" stroke="#000" stroke-width="1.9"/>
<line x1="196.7" y1="1165.3" x2="581.4" y2="1165.3" stroke="#000" stroke-width="2.6" />
<line x1="198" y1="1189.8" x2="198" y2="1329.4" stroke="#000" stroke-width="1.5" />
<line x1="581.5" y1="1189.8" x2="581.5" y2="1329.4" stroke="#000" stroke-width="1.8" />
<line x1="196.7" y1="1189.8" x2="581.4" y2="1189.8" stroke="#000" stroke-width="2.6" />
<line x1="195.7" y1="1329.4" x2="581.5" y2="1329.4" stroke="#000" stroke-width="2.6" />
<rect x="195.7" y="1329.4" width="385.8" height="47.5" rx="2" fill="none" stroke="#000" stroke-width="1.9"/>
<line x1="195.7" y1="1354.8" x2="581.5" y2="1354.8" stroke="#000" stroke-width="2.6" />
<rect x="225.6" y="1376.9" width="327.9" height="10.099999999999909" rx="0" fill="none" stroke="#000" stroke-width="1.9"/>
<rect x="178" y="1177" width="18.69999999999999" height="165.5999999999999" rx="2" fill="none" stroke="#000" stroke-width="1.9"/>
<rect x="162.7" y="1189" width="15.300000000000011" height="61" rx="0" fill="none" stroke="#000" stroke-width="1.9"/>
<rect x="581.5" y="1177" width="29.200000000000045" height="165.5999999999999" rx="2" fill="none" stroke="#000" stroke-width="1.9"/>
<rect x="610.7" y="1192" width="15.199999999999932" height="62" rx="0" fill="none" stroke="#000" stroke-width="1.9"/>
<rect x="610.7" y="1262" width="12.099999999999909" height="61.59999999999991" rx="0" fill="none" stroke="#000" stroke-width="1.9"/>
<line x1="610.7" y1="1248.4" x2="625.9" y2="1248.4" stroke="#000" stroke-width="1.3" />
<line x1="610.7" y1="1271" x2="622.8" y2="1271" stroke="#000" stroke-width="1.3" />
<rect x="612" y="1180" width="5" height="10" rx="0" fill="none" stroke="#000" stroke-width="1.2"/>
<rect x="612" y="1326" width="5" height="10" rx="0" fill="none" stroke="#000" stroke-width="1.2"/>
<circle cx="275.9" cy="1260" r="28.6" fill="none" stroke="#000" stroke-width="3"/>
<line x1="249.03143100200532" y1="1250.2" x2="302.76856899799463" y2="1250.2" stroke="#000" stroke-width="3" />
<line x1="247.30157346985675" y1="1260.3" x2="304.4984265301432" y2="1260.3" stroke="#000" stroke-width="2.2" />
<line x1="249.14275798965818" y1="1270.1" x2="302.65724201034175" y2="1270.1" stroke="#000" stroke-width="3" />
<circle cx="502.8" cy="1260" r="28.8" fill="none" stroke="#000" stroke-width="3"/>
<line x1="475.7186410976111" y1="1250.2" x2="529.8813589023889" y2="1250.2" stroke="#000" stroke-width="3" />
<line x1="474.00156254238783" y1="1260.3" x2="531.5984374576121" y2="1260.3" stroke="#000" stroke-width="2.2" />
<line x1="475.8290897446898" y1="1270.1" x2="529.7709102553102" y2="1270.1" stroke="#000" stroke-width="3" />
<g transform="translate(264.2,1227.9) rotate(-15)"><rect x="-4.2" y="-4.2" width="8.4" height="8.4" rx="1" fill="#fff" stroke="#000" stroke-width="1.3"/><circle cx="0" cy="0" r="2" fill="none" stroke="#000" stroke-width="1.1"/></g>
<g transform="translate(309.4,1266) rotate(10)"><rect x="-4.2" y="-4.2" width="8.4" height="8.4" rx="1" fill="#fff" stroke="#000" stroke-width="1.3"/><circle cx="0" cy="0" r="2" fill="none" stroke="#000" stroke-width="1.1"/></g>
<g transform="translate(253.6,1286.2) rotate(30)"><rect x="-4.2" y="-4.2" width="8.4" height="8.4" rx="1" fill="#fff" stroke="#000" stroke-width="1.3"/><circle cx="0" cy="0" r="2" fill="none" stroke="#000" stroke-width="1.1"/></g>
<g transform="translate(514.7,1227.9) rotate(15)"><rect x="-4.2" y="-4.2" width="8.4" height="8.4" rx="1" fill="#fff" stroke="#000" stroke-width="1.3"/><circle cx="0" cy="0" r="2" fill="none" stroke="#000" stroke-width="1.1"/></g>
<g transform="translate(469,1266) rotate(-10)"><rect x="-4.2" y="-4.2" width="8.4" height="8.4" rx="1" fill="#fff" stroke="#000" stroke-width="1.3"/><circle cx="0" cy="0" r="2" fill="none" stroke="#000" stroke-width="1.1"/></g>
<g transform="translate(524.9,1286.2) rotate(-30)"><rect x="-4.2" y="-4.2" width="8.4" height="8.4" rx="1" fill="#fff" stroke="#000" stroke-width="1.3"/><circle cx="0" cy="0" r="2" fill="none" stroke="#000" stroke-width="1.1"/></g>
<polygon points="200.80,1197.00 203.00,1199.20 200.80,1201.40 198.60,1199.20" fill="#000" stroke="#000" stroke-width="1.0"/>
<polygon points="200.80,1237.40 203.00,1239.60 200.80,1241.80 198.60,1239.60" fill="#000" stroke="#000" stroke-width="1.0"/>
<polygon points="200.80,1277.80 203.00,1280.00 200.80,1282.20 198.60,1280.00" fill="#000" stroke="#000" stroke-width="1.0"/>
<polygon points="200.80,1318.40 203.00,1320.60 200.80,1322.80 198.60,1320.60" fill="#000" stroke="#000" stroke-width="1.0"/>
<polygon points="221.00,1198.30 223.20,1200.50 221.00,1202.70 218.80,1200.50" fill="#000" stroke="#000" stroke-width="1.0"/>
<polygon points="231.20,1256.20 233.40,1258.40 231.20,1260.60 229.00,1258.40" fill="#000" stroke="#000" stroke-width="1.0"/>
<polygon points="276.90,1218.60 279.10,1220.80 276.90,1223.00 274.70,1220.80" fill="#000" stroke="#000" stroke-width="1.0"/>
<polygon points="576.50,1197.00 578.70,1199.20 576.50,1201.40 574.30,1199.20" fill="#000" stroke="#000" stroke-width="1.0"/>
<polygon points="576.50,1237.40 578.70,1239.60 576.50,1241.80 574.30,1239.60" fill="#000" stroke="#000" stroke-width="1.0"/>
<polygon points="576.50,1277.80 578.70,1280.00 576.50,1282.20 574.30,1280.00" fill="#000" stroke="#000" stroke-width="1.0"/>
<polygon points="576.50,1318.40 578.70,1320.60 576.50,1322.80 574.30,1320.60" fill="#000" stroke="#000" stroke-width="1.0"/>
<polygon points="557.00,1198.30 559.20,1200.50 557.00,1202.70 554.80,1200.50" fill="#000" stroke="#000" stroke-width="1.0"/>
<polygon points="547.00,1256.20 549.20,1258.40 547.00,1260.60 544.80,1258.40" fill="#000" stroke="#000" stroke-width="1.0"/>
<polygon points="501.00,1218.60 503.20,1220.80 501.00,1223.00 498.80,1220.80" fill="#000" stroke="#000" stroke-width="1.0"/>
<circle cx="389.6" cy="1260" r="42.8" fill="none" stroke="#000" stroke-width="3.4"/>
<circle cx="389.6" cy="1260" r="39.6" fill="none" stroke="#000" stroke-width="1.0"/>
<circle cx="389.6" cy="1260" r="36.2" fill="none" stroke="#000" stroke-width="1.9"/>
<line x1="369.94599277500896" y1="1229.6" x2="409.2540072249911" y2="1229.6" stroke="#000" stroke-width="1.3" />
<line x1="362.23670341497575" y1="1236.3" x2="416.9632965850243" y2="1236.3" stroke="#000" stroke-width="1.8" />
<line x1="356.7457765272104" y1="1244.8" x2="422.45422347278964" y2="1244.8" stroke="#000" stroke-width="2.5" />
<line x1="356.5636563766509" y1="1274.8" x2="422.63634362334915" y2="1274.8" stroke="#000" stroke-width="2.5" />
<line x1="362.58833585282093" y1="1284.1" x2="416.6116641471791" y2="1284.1" stroke="#000" stroke-width="1.8" />
<line x1="370.1015385222321" y1="1290.5" x2="409.09846147776796" y2="1290.5" stroke="#000" stroke-width="1.5" />
<polygon points="227.00,1154.80 229.50,1157.30 227.00,1159.80 224.50,1157.30" fill="#fff" stroke="#000" stroke-width="1.9"/>
<polygon points="308.00,1154.80 310.50,1157.30 308.00,1159.80 305.50,1157.30" fill="#fff" stroke="#000" stroke-width="1.9"/>
<polygon points="389.30,1154.80 391.80,1157.30 389.30,1159.80 386.80,1157.30" fill="#fff" stroke="#000" stroke-width="1.9"/>
<polygon points="470.00,1154.80 472.50,1157.30 470.00,1159.80 467.50,1157.30" fill="#fff" stroke="#000" stroke-width="1.9"/>
<polygon points="551.00,1154.80 553.50,1157.30 551.00,1159.80 548.50,1157.30" fill="#fff" stroke="#000" stroke-width="1.9"/>
<polygon points="227.00,1169.50 229.50,1172.00 227.00,1174.50 224.50,1172.00" fill="#fff" stroke="#000" stroke-width="1.9"/>
<polygon points="308.00,1169.50 310.50,1172.00 308.00,1174.50 305.50,1172.00" fill="#fff" stroke="#000" stroke-width="1.9"/>
<polygon points="389.30,1169.50 391.80,1172.00 389.30,1174.50 386.80,1172.00" fill="#fff" stroke="#000" stroke-width="1.9"/>
<polygon points="470.00,1169.50 472.50,1172.00 470.00,1174.50 467.50,1172.00" fill="#fff" stroke="#000" stroke-width="1.9"/>
<polygon points="551.00,1169.50 553.50,1172.00 551.00,1174.50 548.50,1172.00" fill="#fff" stroke="#000" stroke-width="1.9"/>
<polygon points="227.00,1345.50 229.50,1348.00 227.00,1350.50 224.50,1348.00" fill="#fff" stroke="#000" stroke-width="1.9"/>
<polygon points="308.00,1345.50 310.50,1348.00 308.00,1350.50 305.50,1348.00" fill="#fff" stroke="#000" stroke-width="1.9"/>
<polygon points="389.30,1345.50 391.80,1348.00 389.30,1350.50 386.80,1348.00" fill="#fff" stroke="#000" stroke-width="1.9"/>
<polygon points="470.00,1345.50 472.50,1348.00 470.00,1350.50 467.50,1348.00" fill="#fff" stroke="#000" stroke-width="1.9"/>
<polygon points="551.00,1345.50 553.50,1348.00 551.00,1350.50 548.50,1348.00" fill="#fff" stroke="#000" stroke-width="1.9"/>
<polygon points="227.00,1360.50 229.50,1363.00 227.00,1365.50 224.50,1363.00" fill="#fff" stroke="#000" stroke-width="1.9"/>
<polygon points="308.00,1360.50 310.50,1363.00 308.00,1365.50 305.50,1363.00" fill="#fff" stroke="#000" stroke-width="1.9"/>
<polygon points="389.30,1360.50 391.80,1363.00 389.30,1365.50 386.80,1363.00" fill="#fff" stroke="#000" stroke-width="1.9"/>
<polygon points="470.00,1360.50 472.50,1363.00 470.00,1365.50 467.50,1363.00" fill="#fff" stroke="#000" stroke-width="1.9"/>
<polygon points="551.00,1360.50 553.50,1363.00 551.00,1365.50 548.50,1363.00" fill="#fff" stroke="#000" stroke-width="1.9"/>
<polygon points="211.70,1191.50 214.20,1194.00 211.70,1196.50 209.20,1194.00" fill="#fff" stroke="#000" stroke-width="1.9"/>
<polygon points="282.70,1191.50 285.20,1194.00 282.70,1196.50 280.20,1194.00" fill="#fff" stroke="#000" stroke-width="1.9"/>
<polygon points="353.80,1191.50 356.30,1194.00 353.80,1196.50 351.30,1194.00" fill="#fff" stroke="#000" stroke-width="1.9"/>
<polygon points="424.90,1191.50 427.40,1194.00 424.90,1196.50 422.40,1194.00" fill="#fff" stroke="#000" stroke-width="1.9"/>
<polygon points="496.00,1191.50 498.50,1194.00 496.00,1196.50 493.50,1194.00" fill="#fff" stroke="#000" stroke-width="1.9"/>
<polygon points="567.00,1191.50 569.50,1194.00 567.00,1196.50 564.50,1194.00" fill="#fff" stroke="#000" stroke-width="1.9"/>
<polygon points="211.70,1322.80 214.20,1325.30 211.70,1327.80 209.20,1325.30" fill="#fff" stroke="#000" stroke-width="1.9"/>
<polygon points="282.70,1322.80 285.20,1325.30 282.70,1327.80 280.20,1325.30" fill="#fff" stroke="#000" stroke-width="1.9"/>
<polygon points="353.80,1322.80 356.30,1325.30 353.80,1327.80 351.30,1325.30" fill="#fff" stroke="#000" stroke-width="1.9"/>
<polygon points="424.90,1322.80 427.40,1325.30 424.90,1327.80 422.40,1325.30" fill="#fff" stroke="#000" stroke-width="1.9"/>
<polygon points="496.00,1322.80 498.50,1325.30 496.00,1327.80 493.50,1325.30" fill="#fff" stroke="#000" stroke-width="1.9"/>
<polygon points="567.00,1322.80 569.50,1325.30 567.00,1327.80 564.50,1325.30" fill="#fff" stroke="#000" stroke-width="1.9"/>
<line x1="178.5" y1="1039.6" x2="178.5" y2="1174" stroke="#333" stroke-width="1.0" />
<line x1="609.6" y1="1039.6" x2="609.6" y2="1175.4" stroke="#333" stroke-width="1.0" />
<line x1="178.5" y1="1045.5" x2="609.6" y2="1045.5" stroke="#333" stroke-width="1.0" />
<polygon points="178.50,1045.50 189.70,1043.50 189.70,1047.50" fill="#000" stroke="none" stroke-width="0"/>
<polygon points="609.60,1045.50 598.40,1047.50 598.40,1043.50" fill="#000" stroke="none" stroke-width="0"/>
<g class="dt" transform="translate(366.8,1023.9) scale(0.9750,1.0000)" fill="none" stroke="#000" stroke-width="1.7" stroke-linecap="butt"><g transform="translate(0.00,0)"><path d="M0.3,2.1 L3.6,0.9 V17.2"/></g><g transform="translate(10.60,0)"><ellipse cx="5.95" cy="8.6" rx="5.08" ry="7.75"/></g><g transform="translate(24.30,0)"><circle cx="5.2" cy="12.0" r="4.35"/><path d="M8.3,0.85 L1.5,10.0"/></g><g transform="translate(36.50,0)"><path d="M1.0,5.4 C1.2,2.6 3.3,0.85 5.8,0.85 C8.5,0.85 10.5,2.8 10.5,5.2 C10.5,6.7 9.9,7.8 8.8,9 L1.3,16.35 H11.5"/></g></g>
<line x1="178.5" y1="1078" x2="609.6" y2="1078" stroke="#333" stroke-width="1.0" />
<polygon points="178.50,1078.00 189.70,1076.00 189.70,1080.00" fill="#000" stroke="none" stroke-width="0"/>
<polygon points="609.60,1078.00 598.40,1080.00 598.40,1076.00" fill="#000" stroke="none" stroke-width="0"/>
<polygon points="389.30,1078.00 378.10,1080.00 378.10,1076.00" fill="#000" stroke="none" stroke-width="0"/>
<polygon points="389.30,1078.00 400.50,1076.00 400.50,1080.00" fill="#000" stroke="none" stroke-width="0"/>
<line x1="389.3" y1="1072" x2="389.3" y2="1255" stroke="#333" stroke-width="1.0" />
<g class="dt" transform="translate(254.9,1055.9) scale(1.0653,0.9971)" fill="none" stroke="#000" stroke-width="1.7" stroke-linecap="butt"><g transform="translate(0.00,0)"><path d="M10.5,0.85 H3.0 L2.2,7.9 C3.1,6.9 4.3,6.3 5.7,6.3 C8.3,6.3 10.05,8.4 10.05,11.3 C10.05,14.2 8.1,16.35 5.5,16.35 C3.5,16.35 1.8,15.3 0.85,13.6"/></g><g transform="translate(12.70,0)"><path d="M0.3,2.1 L3.6,0.9 V17.2"/></g><g transform="translate(23.30,0)"><circle cx="5.2" cy="5.2" r="4.35"/><path d="M8.9,7.2 L2.1,16.35"/></g></g>
<g class="dt" transform="translate(464.6,1055.9) scale(1.0000,0.9971)" fill="none" stroke="#000" stroke-width="1.7" stroke-linecap="butt"><g transform="translate(0.00,0)"><path d="M10.5,0.85 H3.0 L2.2,7.9 C3.1,6.9 4.3,6.3 5.7,6.3 C8.3,6.3 10.05,8.4 10.05,11.3 C10.05,14.2 8.1,16.35 5.5,16.35 C3.5,16.35 1.8,15.3 0.85,13.6"/></g><g transform="translate(12.70,0)"><path d="M8.0,17.2 V0.85 L0.85,12.5 H11.4"/></g><g transform="translate(25.90,0)"><path d="M1.2,3.7 C1.9,1.9 3.5,0.85 5.4,0.85 C7.8,0.85 9.3,2.5 9.3,4.5 C9.3,6.7 7.6,8.2 4.9,8.2 C7.9,8.2 9.65,10.1 9.65,12.4 C9.65,14.8 7.8,16.35 5.2,16.35 C3.2,16.35 1.6,15.4 0.85,13.7"/></g></g>
<line x1="84.2" y1="1144.3" x2="192" y2="1144.3" stroke="#333" stroke-width="1.0" />
<line x1="84.2" y1="1261.6" x2="383.5" y2="1261.6" stroke="#333" stroke-width="1.0" />
<line x1="84.2" y1="1378.5" x2="192" y2="1378.5" stroke="#333" stroke-width="1.0" />
<line x1="90.4" y1="1144.3" x2="90.4" y2="1378.5" stroke="#333" stroke-width="1.0" />
<polygon points="90.40,1144.30 92.40,1155.50 88.40,1155.50" fill="#000" stroke="none" stroke-width="0"/>
<polygon points="90.40,1261.60 88.40,1250.40 92.40,1250.40" fill="#000" stroke="none" stroke-width="0"/>
<polygon points="90.40,1261.60 92.40,1272.80 88.40,1272.80" fill="#000" stroke="none" stroke-width="0"/>
<polygon points="90.40,1378.50 88.40,1367.30 92.40,1367.30" fill="#000" stroke="none" stroke-width="0"/>
<g class="dt" transform="translate(68.2,1217) rotate(-90) scale(0.9946,0.9942)" fill="none" stroke="#000" stroke-width="1.7" stroke-linecap="butt"><g transform="translate(0.00,0)"><path d="M1.0,5.4 C1.2,2.6 3.3,0.85 5.8,0.85 C8.5,0.85 10.5,2.8 10.5,5.2 C10.5,6.7 9.9,7.8 8.8,9 L1.3,16.35 H11.5"/></g><g transform="translate(13.30,0)"><ellipse cx="5.4" cy="3.95" rx="3.5" ry="3.1"/><ellipse cx="5.4" cy="12.2" rx="4.55" ry="4.15"/></g><g transform="translate(25.90,0)"><ellipse cx="5.4" cy="3.95" rx="3.5" ry="3.1"/><ellipse cx="5.4" cy="12.2" rx="4.55" ry="4.15"/></g></g>
<g class="dt" transform="translate(68.2,1338.9) rotate(-90) scale(0.9946,0.9942)" fill="none" stroke="#000" stroke-width="1.7" stroke-linecap="butt"><g transform="translate(0.00,0)"><path d="M1.0,5.4 C1.2,2.6 3.3,0.85 5.8,0.85 C8.5,0.85 10.5,2.8 10.5,5.2 C10.5,6.7 9.9,7.8 8.8,9 L1.3,16.35 H11.5"/></g><g transform="translate(13.30,0)"><ellipse cx="5.4" cy="3.95" rx="3.5" ry="3.1"/><ellipse cx="5.4" cy="12.2" rx="4.55" ry="4.15"/></g><g transform="translate(25.90,0)"><ellipse cx="5.4" cy="3.95" rx="3.5" ry="3.1"/><ellipse cx="5.4" cy="12.2" rx="4.55" ry="4.15"/></g></g>
<line x1="519" y1="1230.8" x2="664.8" y2="1230.8" stroke="#333" stroke-width="1.0" />
<line x1="509" y1="1291.9" x2="664.8" y2="1291.9" stroke="#333" stroke-width="1.0" />
<line x1="659.1" y1="1099.7" x2="659.1" y2="1326" stroke="#333" stroke-width="1.0" />
<polygon points="659.10,1230.80 657.10,1219.60 661.10,1219.60" fill="#000" stroke="none" stroke-width="0"/>
<polygon points="659.10,1291.90 661.10,1303.10 657.10,1303.10" fill="#000" stroke="none" stroke-width="0"/>
<g class="dt" transform="translate(637.3,1190.3) rotate(-90) scale(1.0223,0.9593)" fill="none" stroke="#000" stroke-width="1.7" stroke-linecap="butt"><g transform="translate(0.00,0)"><path d="M0.3,2.1 L3.6,0.9 V17.2"/></g><g transform="translate(10.60,0)"><path d="M10.5,0.85 H3.0 L2.2,7.9 C3.1,6.9 4.3,6.3 5.7,6.3 C8.3,6.3 10.05,8.4 10.05,11.3 C10.05,14.2 8.1,16.35 5.5,16.35 C3.5,16.35 1.8,15.3 0.85,13.6"/></g><g transform="translate(23.30,0)"><ellipse cx="5.95" cy="8.6" rx="5.08" ry="7.75"/></g><g transform="translate(41.20,0)"><path d="M3.8,-0.7 C1.6,3.5 0.85,6.8 0.85,10.4 C0.85,14 1.6,17.3 3.8,21.5"/></g><g transform="translate(47.00,0)"><path d="M1.0,5.4 C1.2,2.6 3.3,0.85 5.8,0.85 C8.5,0.85 10.5,2.8 10.5,5.2 C10.5,6.7 9.9,7.8 8.8,9 L1.3,16.35 H11.5"/></g><g transform="translate(60.30,0)"><path d="M0.85,5.6 L9.2,17.2 M9.2,5.6 L0.85,17.2"/></g><g transform="translate(72.10,0)"><path d="M0.2,-0.7 C2.4,3.5 3.15,6.8 3.15,10.4 C3.15,14 2.4,17.3 0.2,21.5"/></g></g>
<ellipse cx="645.4" cy="1205" rx="7.8" ry="8" fill="none" stroke="#000" stroke-width="1"/>
<line x1="634.2" y1="1201.3" x2="655.8" y2="1209.5" stroke="#000" stroke-width="1" />
<line x1="348.4" y1="1280" x2="348.4" y2="1444" stroke="#333" stroke-width="1.0" />
<line x1="430" y1="1280" x2="430" y2="1444" stroke="#333" stroke-width="1.0" />
<line x1="314.5" y1="1438.4" x2="463.7" y2="1438.4" stroke="#333" stroke-width="1.0" />
<polygon points="348.40,1438.40 337.20,1440.40 337.20,1436.40" fill="#000" stroke="none" stroke-width="0"/>
<polygon points="429.70,1438.40 440.90,1436.40 440.90,1440.40" fill="#000" stroke="none" stroke-width="0"/>
<g class="dt" transform="translate(388.1,1417) scale(0.9409,0.9826)" fill="none" stroke="#000" stroke-width="1.7" stroke-linecap="butt"><g transform="translate(0.00,0)"><path d="M1.0,5.4 C1.2,2.6 3.3,0.85 5.8,0.85 C8.5,0.85 10.5,2.8 10.5,5.2 C10.5,6.7 9.9,7.8 8.8,9 L1.3,16.35 H11.5"/></g><g transform="translate(13.30,0)"><ellipse cx="5.95" cy="8.6" rx="5.08" ry="7.75"/></g><g transform="translate(27.00,0)"><ellipse cx="5.95" cy="8.6" rx="5.08" ry="7.75"/></g></g>
<ellipse cx="374.9" cy="1425.1" rx="8.2" ry="7.8" fill="none" stroke="#000" stroke-width="1"/>
<line x1="370.4" y1="1435.3" x2="379.5" y2="1414" stroke="#000" stroke-width="1" />
<line x1="225.4" y1="1394" x2="225.4" y2="1484.7" stroke="#333" stroke-width="1.0" />
<line x1="553.5" y1="1394" x2="553.5" y2="1484.7" stroke="#333" stroke-width="1.0" />
<line x1="225.4" y1="1479.5" x2="553.5" y2="1479.5" stroke="#333" stroke-width="1.0" />
<polygon points="225.40,1479.50 236.60,1477.50 236.60,1481.50" fill="#000" stroke="none" stroke-width="0"/>
<polygon points="553.50,1479.50 542.30,1481.50 542.30,1477.50" fill="#000" stroke="none" stroke-width="0"/>
<g class="dt" transform="translate(376,1458.1) scale(0.9784,0.9942)" fill="none" stroke="#000" stroke-width="1.7" stroke-linecap="butt"><g transform="translate(0.00,0)"><ellipse cx="5.4" cy="3.95" rx="3.5" ry="3.1"/><ellipse cx="5.4" cy="12.2" rx="4.55" ry="4.15"/></g><g transform="translate(12.60,0)"><ellipse cx="5.95" cy="8.6" rx="5.08" ry="7.75"/></g><g transform="translate(26.30,0)"><ellipse cx="5.4" cy="3.95" rx="3.5" ry="3.1"/><ellipse cx="5.4" cy="12.2" rx="4.55" ry="4.15"/></g></g>
<text x="115.9" y="1554.3" font-family="Liberation Sans" font-size="19" fill="#111" font-weight="normal" text-anchor="start" textLength="489" lengthAdjust="spacingAndGlyphs" stroke="#111" stroke-width="0.3">All dimensions in mm. Modifications under reserve.</text>
<text x="861.7" y="1557.3" font-family="Liberation Sans" font-size="19" fill="#111" font-weight="normal" text-anchor="start" textLength="95.2" lengthAdjust="spacingAndGlyphs" stroke="#111" stroke-width="0.3">6-11-2025</text>
<text x="990.4" y="1557.3" font-family="Liberation Sans" font-size="19" fill="#111" font-weight="normal" text-anchor="start" textLength="98.5" lengthAdjust="spacingAndGlyphs" stroke="#111" stroke-width="0.3">sheet 1 / 5</text>
<rect x="115.2" y="1569.5" width="991.3999999999999" height="72.20000000000005" rx="0" fill="none" stroke="#444" stroke-width="1.2"/>
<text x="122.8" y="1603" font-family="Liberation Sans" font-size="17.5" fill="#111" font-weight="normal" text-anchor="start" textLength="969.9" lengthAdjust="spacingAndGlyphs" stroke="#111" stroke-width="0.3">© All rights reserved. This drawing is sole property of Kal-fire. No part of this drawing may be reproduced,</text>
<text x="122.8" y="1621" font-family="Liberation Sans" font-size="17.5" fill="#111" font-weight="normal" text-anchor="start" textLength="782.1" lengthAdjust="spacingAndGlyphs" stroke="#111" stroke-width="0.3">or published, in any form or in any way without prior written permission from Kal-fire.</text>
</svg></body></html>
